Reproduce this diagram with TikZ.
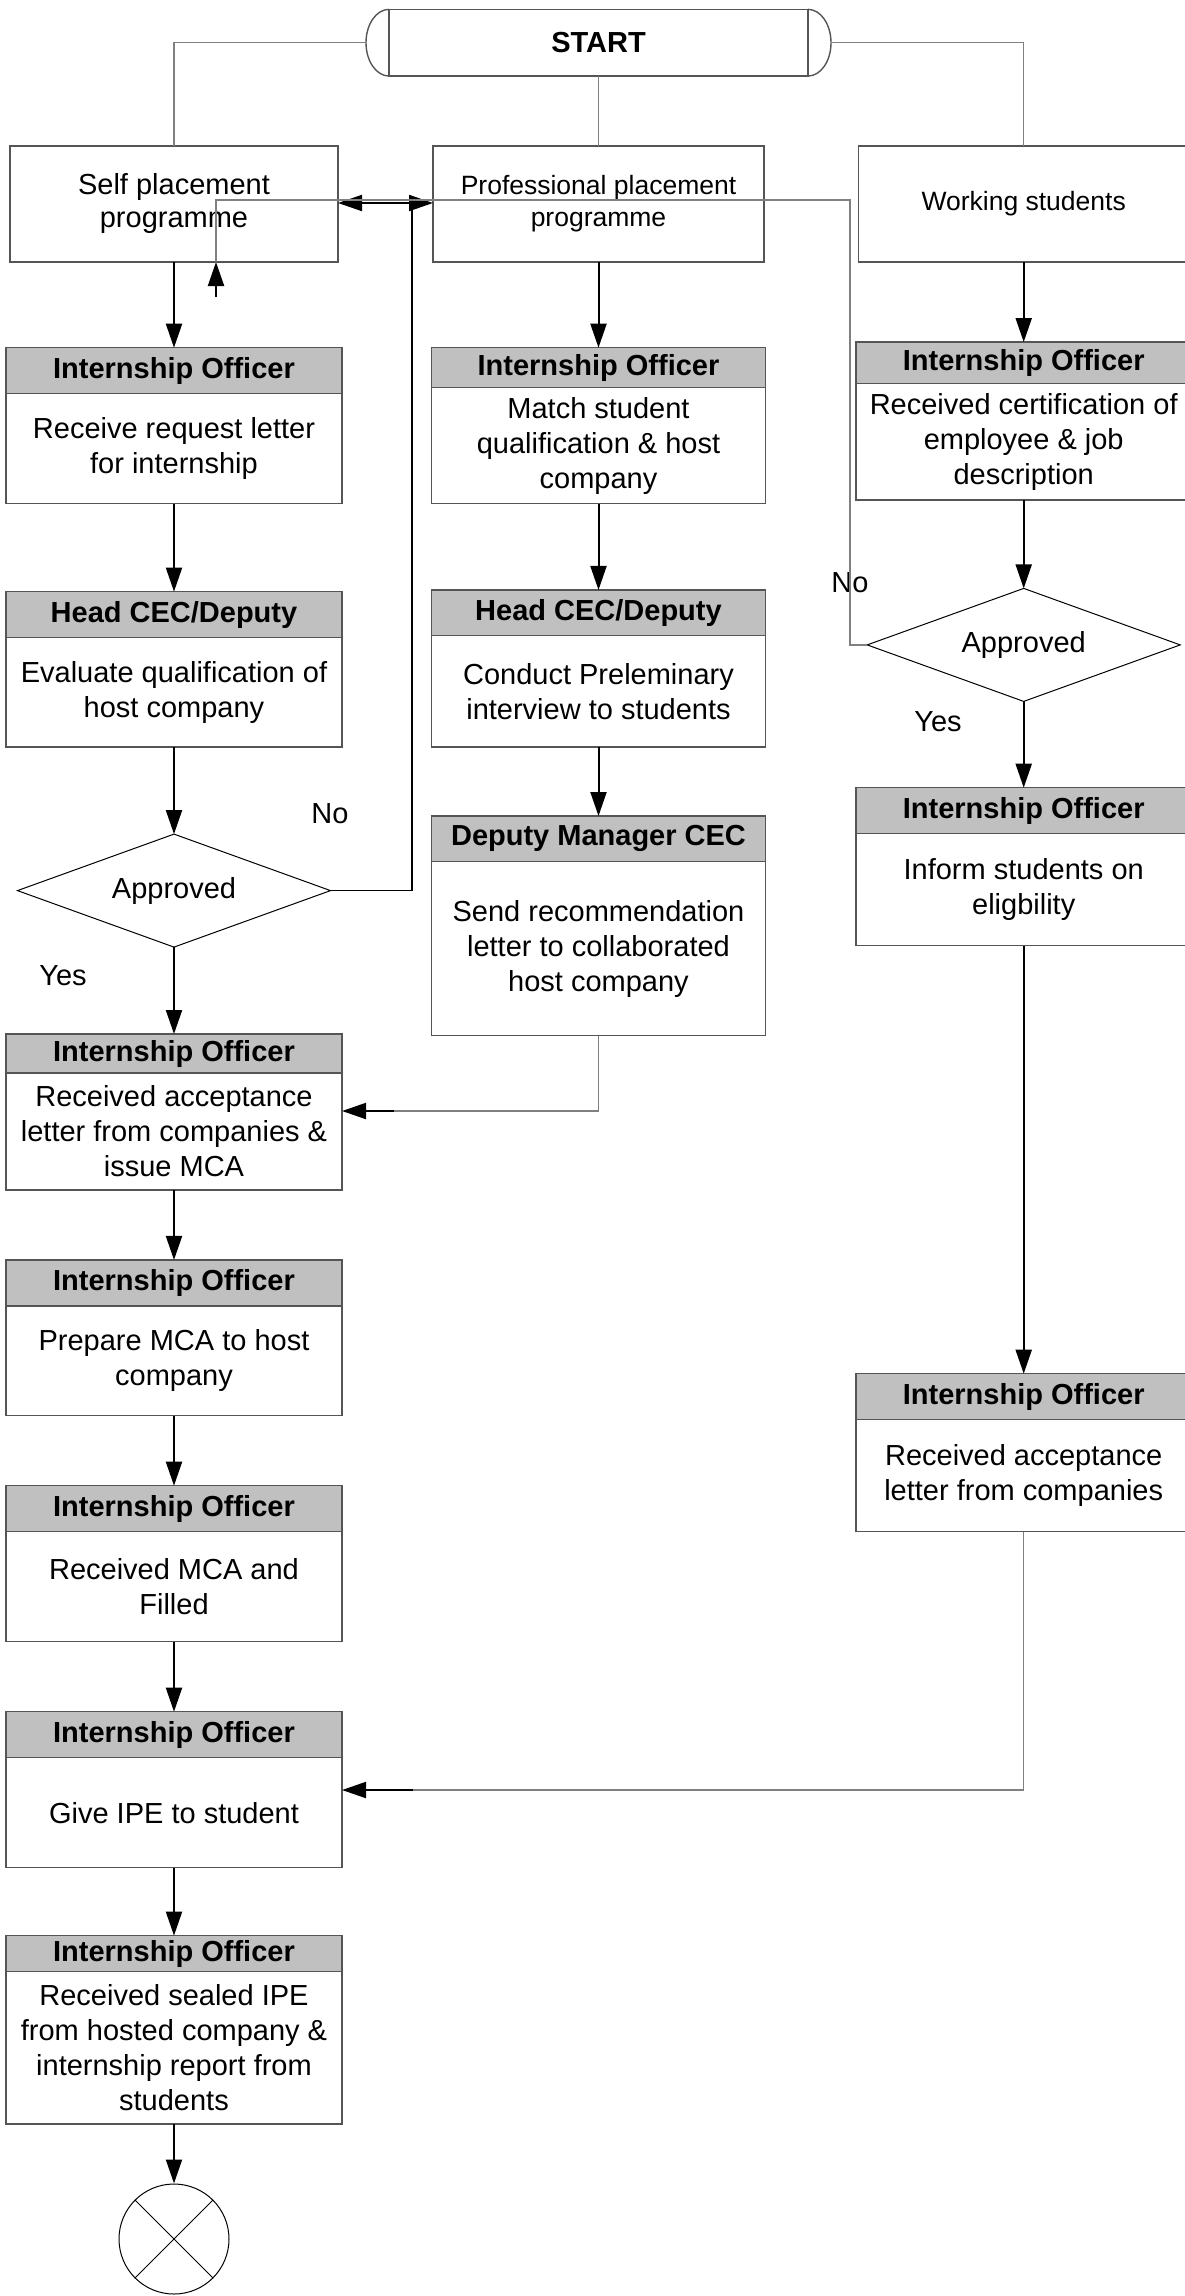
\documentclass[tikz,border=0pt]{standalone}
\usepackage{fontspec}
\setmainfont{Liberation Sans}
\usetikzlibrary{arrows.meta,positioning,shapes.geometric}

\definecolor{hdrgray}{RGB}{192,192,192}
\definecolor{lnegray}{RGB}{128,128,128}
\definecolor{boxline}{RGB}{85,85,85}
\newcommand\txtfont{\fontsize{14.5}{17.5}\selectfont}
\newcommand\hdrfont{\bfseries\fontsize{14.5}{17.5}\selectfont}
\newcommand\smlfont{\fontsize{13.25}{16}\selectfont}

\tikzset{
  box/.style={rectangle,draw=boxline,line width=0.7pt,fill=white,align=center,inner sep=2pt,outer sep=0pt,font=\txtfont},
  head/.style={box,fill=hdrgray,font=\hdrfont},
  lcol/.style={minimum width=168pt},
  mcol/.style={minimum width=166.75pt},
  rcol/.style={minimum width=167.7pt},
  decide/.style={diamond,draw,line width=0.5pt,font=\txtfont,aspect=2.77,minimum width=156.5pt,minimum height=56.5pt,inner sep=0pt,outer sep=0pt},
  arr/.style={-{Triangle[length=12pt,width=8pt]},line width=1pt},
  conn/.style={draw=lnegray,line width=0.7pt},
  lbl/.style={font=\txtfont,inner sep=0pt},
}

\begin{document}
\begin{tikzpicture}[x=0.5pt,y=-0.5pt]
\useasboundingbox (0,0) rectangle (1184,2296);

% start
\node[box,draw=none,fill=none,minimum width=209.5pt,minimum height=33.35pt,font=\hdrfont] (start) at (598.5,42.7) {START};
\draw[boxline,line width=0.7pt] (start.north west) rectangle (start.south east);
\draw[boxline,line width=0.7pt] (start.north west) arc[start angle=90,end angle=270,x radius=11.5pt,y radius=16.675pt];
\draw[boxline,line width=0.7pt] (start.south east) arc[start angle=-90,end angle=90,x radius=11.5pt,y radius=16.675pt];

% three programmes
\node[box,minimum width=164pt,minimum height=58pt,font=\fontsize{14.5}{16.5}\selectfont] (self) at (174,204) {Self placement\\programme};
\node[box,minimum width=165.5pt,minimum height=58pt,font=\smlfont] (prof) at (598.5,204) {Professional placement\\programme};
\node[box,minimum width=165pt,minimum height=58pt,font=\smlfont] (work) at (1023.7,204) {Working students};

% self placement column
\node[box,lcol,minimum height=55pt] (io1) at (174,448.7) {Receive request letter\\for internship};
\node[head,lcol,minimum height=23pt,above=0pt of io1] (io1h) {Internship Officer};
\node[box,lcol,minimum height=54.65pt] (hd1) at (174,692.3) {Evaluate qualification of\\host company};
\node[head,lcol,minimum height=23pt,above=0pt of hd1] (hd1h) {Head CEC/Deputy};
\node[decide] (dec1) at (174,890.6) {Approved};
\node[box,lcol,minimum height=58.5pt] (io2) at (174,1131.5) {Received acceptance\\letter from companies \&\\issue MCA};
\node[head,lcol,minimum height=19.5pt,above=0pt of io2] (io2h) {Internship Officer};
\node[box,lcol,minimum height=54.85pt] (io3) at (174,1360.8) {Prepare MCA to host\\company};
\node[head,lcol,minimum height=23pt,above=0pt of io3] (io3h) {Internship Officer};
\node[box,lcol,minimum height=55pt] (io4) at (174,1586.7) {Received MCA and\\Filled};
\node[head,lcol,minimum height=23pt,above=0pt of io4] (io4h) {Internship Officer};
\node[box,lcol,minimum height=55pt] (io5) at (174,1812.7) {Give IPE to student};
\node[head,lcol,minimum height=23pt,above=0pt of io5] (io5h) {Internship Officer};
\node[box,lcol,minimum height=76.15pt] (io6) at (174,2047.8) {Received sealed IPE\\from hosted company \&\\internship report from\\students};
\node[head,lcol,minimum height=18pt,above=0pt of io6] (io6h) {Internship Officer};
\node[circle,draw,line width=0.5pt,minimum size=55pt,inner sep=0pt] (stop) at (174,2239) {};
\draw[line width=0.5pt] (stop.north west) -- (stop.south east) (stop.north east) -- (stop.south west);

% professional column
\node[box,mcol,minimum height=58pt] (pio1) at (598.5,445.7) {Match student\\qualification \& host\\company};
\node[head,mcol,minimum height=20pt,above=0pt of pio1] (pio1h) {Internship Officer};
\node[box,mcol,minimum height=55.65pt] (phd) at (598.5,691.3) {Conduct Preleminary\\interview to students};
\node[head,mcol,minimum height=22.85pt,above=0pt of phd] (phdh) {Head CEC/Deputy};
\node[box,mcol,minimum height=87pt] (pdep) at (598.5,948.7) {Send recommendation\\letter to collaborated\\host company};
\node[head,mcol,minimum height=22.85pt,above=0pt of pdep] (pdeph) {Deputy Manager CEC};

% working students column
\node[box,rcol,minimum height=58.35pt] (wio1) at (1023.7,441.7) {Received certification of\\employee \& job\\description};
\node[head,rcol,minimum height=20.65pt,above=0pt of wio1] (wio1h) {Internship Officer};
\node[decide] (dec2) at (1023.7,644.9) {Approved};
\node[box,rcol,minimum height=56pt] (wio2) at (1023.7,889.7) {Inform students on\\eligbility};
\node[head,rcol,minimum height=23pt,above=0pt of wio2] (wio2h) {Internship Officer};
\node[box,rcol,minimum height=56.2pt] (wio3) at (1023.7,1475.5) {Received acceptance\\letter from companies};
\node[head,rcol,minimum height=22.8pt,above=0pt of wio3] (wio3h) {Internship Officer};

% labels
\node[lbl] (no1) at (330,814) {No};
\node[lbl] (yes1) at (63,976) {Yes};
\node[lbl] (no2) at (850,583) {No};
\node[lbl] (yes2) at (938,722) {Yes};

% from start
\draw[conn] ([xshift=-11.5pt]start.west) -| (self.north);
\draw[conn] ([xshift=11.5pt]start.east) -| (work.north);
\draw[conn] (start.south) -- (prof.north);

% straight flow
\path[arr] (self) edge (io1h)
  (io1) edge (hd1h)
  (hd1) edge (dec1)
  (dec1) edge (io2h)
  (io2) edge (io3h)
  (io3) edge (io4h)
  (io4) edge (io5h)
  (io5) edge (io6h)
  (io6) edge (stop)
  (prof) edge (pio1h)
  (pio1) edge (phdh)
  (phd) edge (pdeph)
  (work) edge (wio1h)
  (wio1) edge (dec2)
  (dec2) edge (wio2h)
  (wio2) edge (wio3h);

% joins into the left column
\coordinate (pj) at (394,1111);
\draw[conn] (pdep.south) |- (pj);
\draw[arr] (pj) -- (io2.east |- pj);
\coordinate (wj) at (413,1790);
\draw[conn] (wio3.south) |- (wj);
\draw[arr] (wj) -- (io5.east |- wj);

% not approved
\coordinate (nj) at (412,203);
\draw[line width=0.75pt] (dec1.east) -| (nj);
\draw[arr] (nj) -- (prof.west |- nj);
\draw[arr] (nj) -- (self.east |- nj);
\coordinate (nk) at (850,200);
\coordinate (nl) at (216,200);
\draw[conn] (dec2.west) -| (nk) -- (nl) -- (nl |- self.south);
\coordinate (nm) at (216,297);
\draw[arr] (nm) -- (nm |- self.south);
\end{tikzpicture}
\end{document}
